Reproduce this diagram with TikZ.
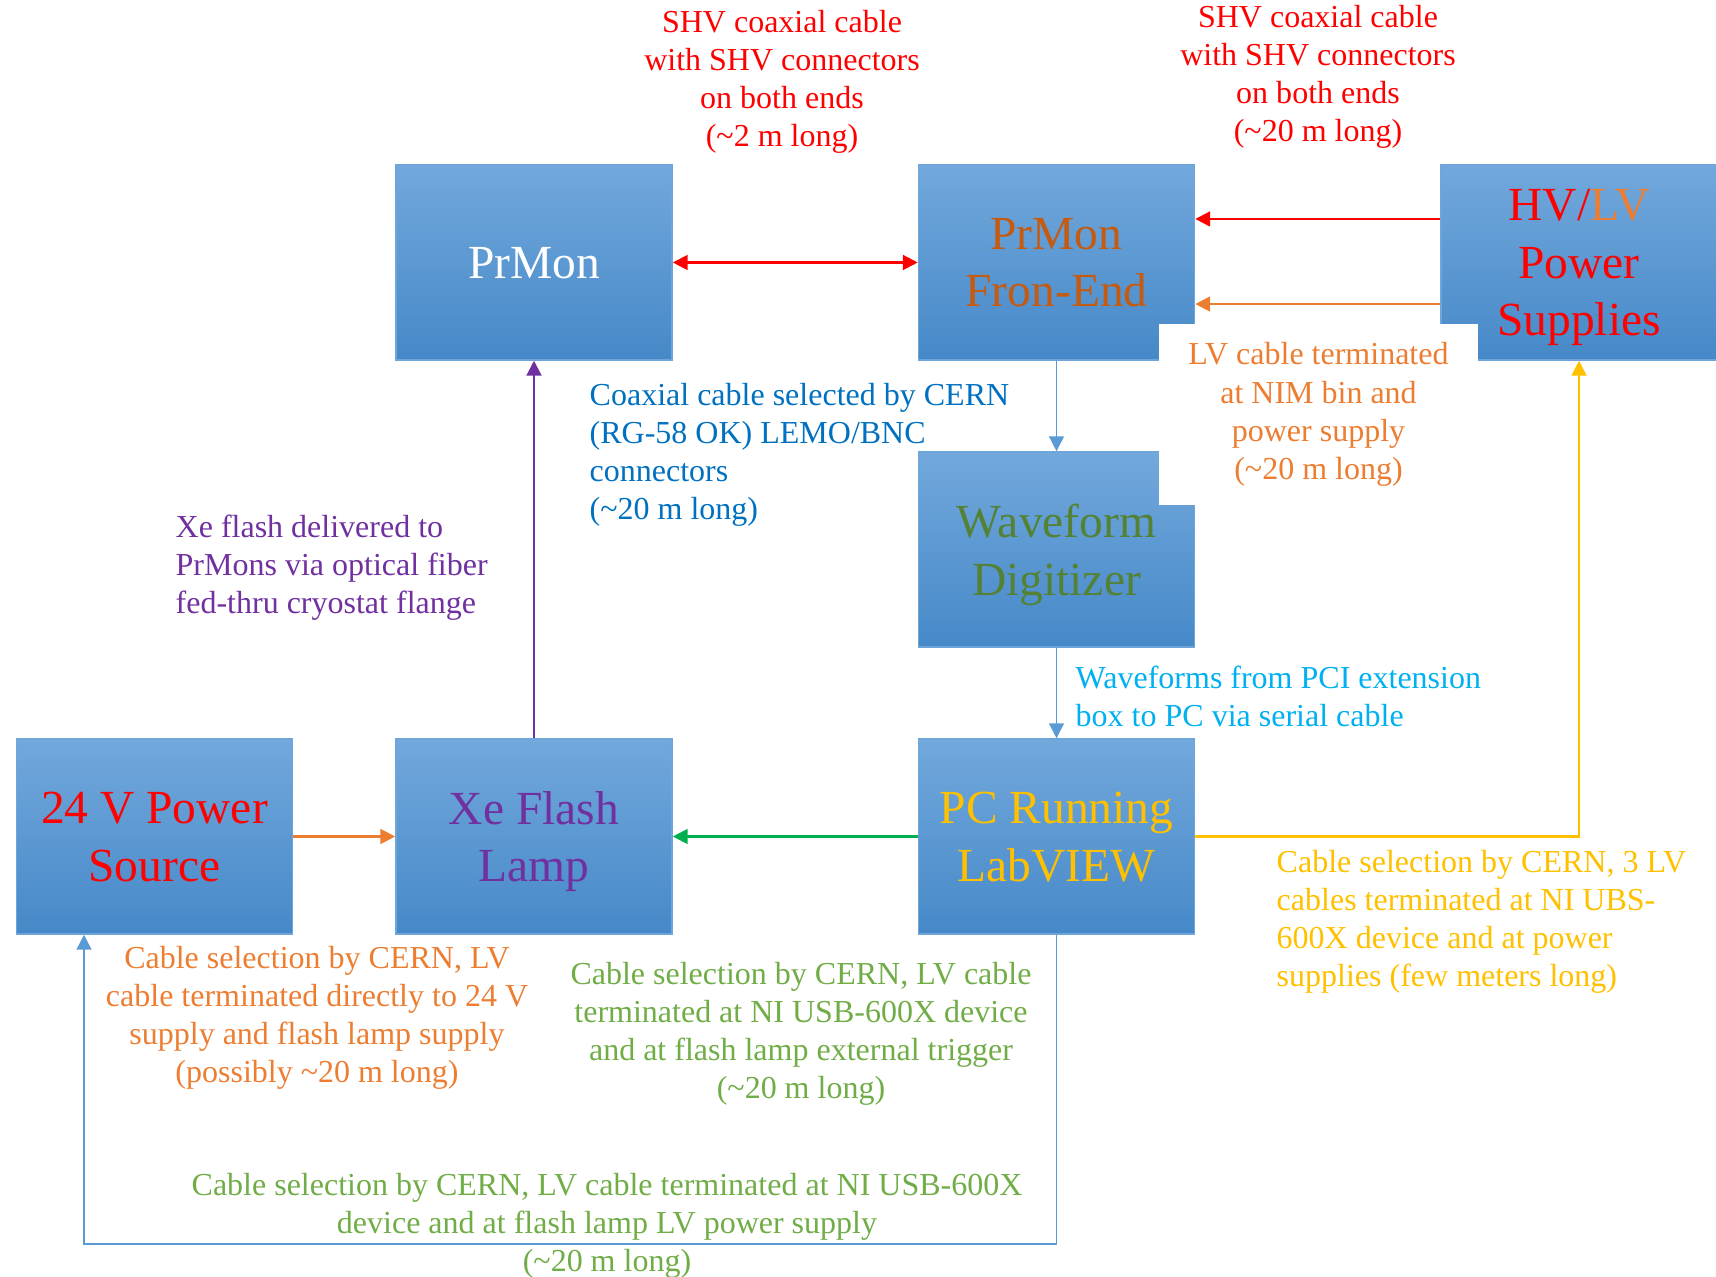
\documentclass[tikz,border=0pt]{standalone}
\usepackage{fontspec}
\setmainfont{Liberation Serif}
\usetikzlibrary{arrows.meta}

\definecolor{boxtop}{RGB}{114,168,220}
\definecolor{boxbot}{RGB}{70,137,200}
\definecolor{boxedge}{RGB}{110,165,218}
\definecolor{lvorange}{RGB}{237,125,49}
\definecolor{feorange}{RGB}{197,90,17}
\definecolor{xepurple}{RGB}{112,48,160}
\definecolor{wfgreen}{RGB}{84,130,53}
\definecolor{lightgreen}{RGB}{112,173,71}
\definecolor{trigreen}{RGB}{0,176,80}
\definecolor{pcgold}{RGB}{255,192,0}
\definecolor{coaxblue}{RGB}{0,112,192}
\definecolor{skyblue}{RGB}{0,176,240}
\definecolor{lineblue}{RGB}{91,155,213}

\begin{document}
\begin{tikzpicture}[
x=0.01cm,y=-0.01cm,
obj/.style={top color=boxtop,bottom color=boxbot,draw=boxedge,line width=0.4pt,minimum width=2.76cm,minimum height=1.95cm,inner sep=0pt,align=center,text depth=-3.6pt,font=\fontsize{13.5}{16.4}\selectfont},
note/.style={inner sep=0pt,font=\fontsize{9.1}{10.85}\selectfont},
arrow/.style={-{Triangle[length=4.2pt,width=4.2pt]},line width=0.6pt} ]

\useasboundingbox (0,0) rectangle (1716,1277);

\node[obj,text=white] (PM) at (534,262.5) {PrMon};

\node[obj,text=feorange] (FE) at (1056.5,262.5) {PrMon\\Fron-End};

\node[obj,text=red] (HV) at (1579,262.5) {HV/\textcolor{lvorange}{LV}\\Power\\Supplies};

\node[obj,text=wfgreen] (WD) at (1056.5,549.5) {Waveform\\Digitizer};

\node[obj,text=pcgold] (PC) at (1056.5,836.5) {PC Running\\LabVIEW};

\node[obj,text=xepurple] (XE) at (534,836.5) {Xe Flash\\Lamp};

\node[obj,text=red] (PS) at (154.5,836.5) {24 V Power\\Source};

\node[note,text=lvorange,fill=white,align=center,minimum width=3.19cm,minimum height=1.8cm] (lvnote) at (1318.5,414.5) {LV cable terminated\\at NIM bin and\\power supply\\(\textasciitilde20 m long)};

\node[note,text=red,align=center] (shvA) at (782,82) {SHV coaxial cable\\with SHV connectors\\on both ends\\(\textasciitilde2 m long)};

\node[note,text=red,align=center] (shvB) at (1318,77) {SHV coaxial cable\\with SHV connectors\\on both ends\\(\textasciitilde20 m long)};

\node[note,text=coaxblue,align=left,anchor=west] (coax) at (589,455) {Coaxial cable selected by CERN\\(RG-58 OK) LEMO/BNC\\connectors\\(\textasciitilde20 m long)};

\node[note,text=xepurple,align=left,anchor=west] (fiber) at (175,568) {Xe flash delivered to\\PrMons via optical fiber\\fed-thru cryostat flange};

\node[note,text=skyblue,align=left,anchor=west] (serial) at (1075,696.5) {Waveforms from PCI extension\\box to PC via serial cable};

\node[note,text=pcgold,align=left,anchor=west] (threelv) at (1276,922) {Cable selection by CERN, 3 LV\\cables terminated at NI UBS-\\600X device and at power\\supplies (few meters long)};

\node[note,text=lvorange,align=center] (supply) at (317,1018) {Cable selection by CERN, LV\\cable terminated directly to 24 V\\supply and flash lamp supply\\(possibly \textasciitilde20 m long)};

\node[note,text=lightgreen,align=center] (trigger) at (801,1034) {Cable selection by CERN, LV cable\\terminated at NI USB-600X device\\and at flash lamp external trigger\\(\textasciitilde20 m long)};

\node[note,text=lightgreen,align=center] (lvpower) at (607,1225.5) {Cable selection by CERN, LV cable terminated at NI USB-600X\\device and at flash lamp LV power supply\\(\textasciitilde20 m long)};

\coordinate (corner) at (84,1244);

\draw[arrow,{Triangle[length=4.2pt,width=4.2pt]}-{Triangle[length=4.2pt,width=4.2pt]},red] (PM) -- (FE);

\draw[arrow,red] ([yshift=4.35mm]HV.west) -- ([yshift=4.35mm]FE.east);

\draw[arrow,lvorange] ([yshift=-4.15mm]HV.west) -- ([yshift=-4.15mm]FE.east);

\draw[arrow,lineblue,line width=0.4pt] (FE) -- (WD);

\draw[arrow,lineblue,line width=0.4pt] (WD) -- (PC);

\draw[arrow,trigreen] (PC) -- (XE);

\draw[arrow,lvorange] (PS) -- (XE);

\draw[arrow,xepurple] (XE) -- (PM);

\draw[arrow,pcgold] (PC.east) -| (HV.south);

\draw[arrow,lineblue,line width=0.4pt] (PC.south) |- (corner) -- (corner |- PS.south);

\end{tikzpicture}
\end{document}
